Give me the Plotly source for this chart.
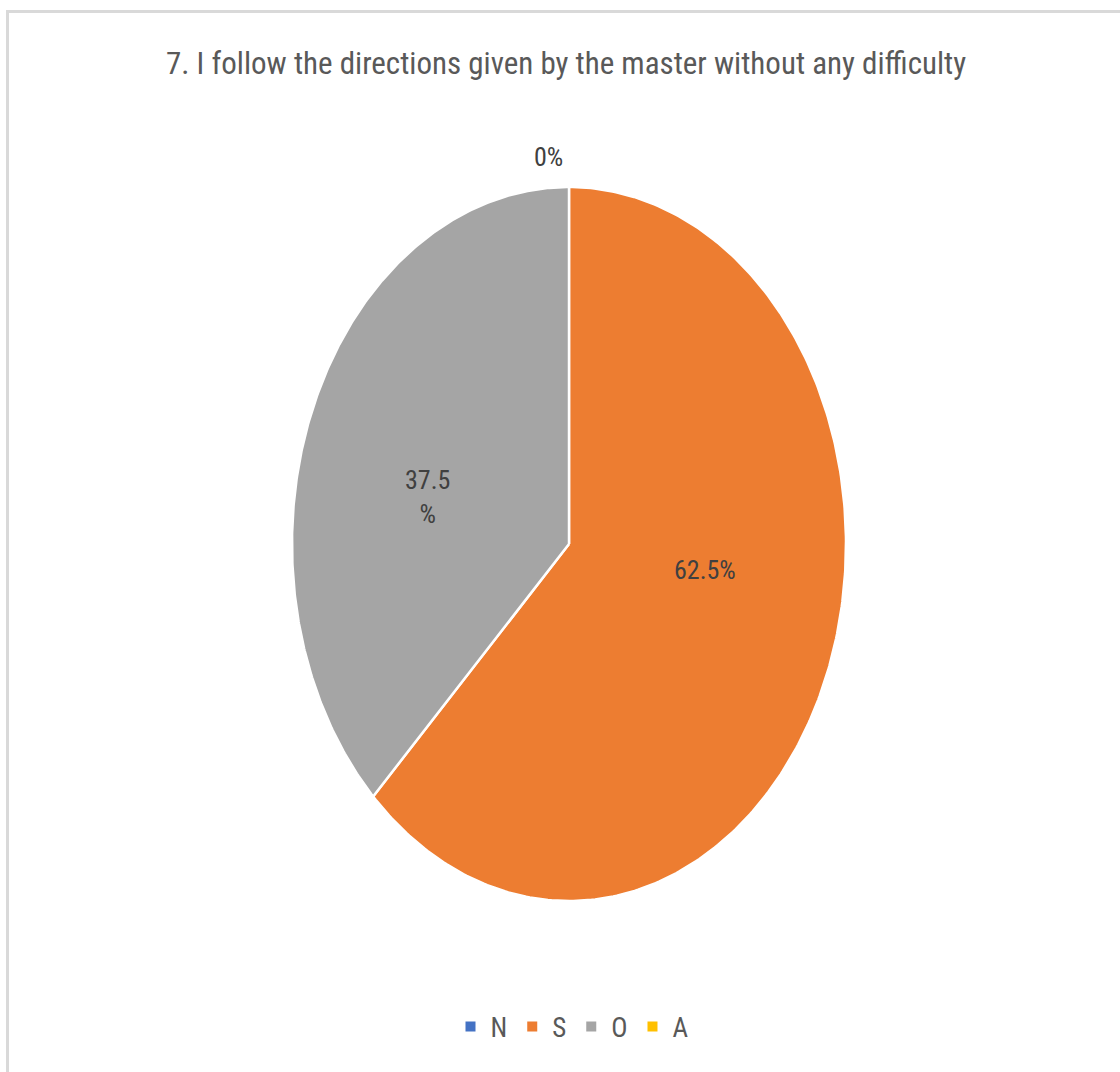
import numpy as np
import plotly.graph_objects as go

# ---- data ----
title_text = "7. I follow the directions given by the master without any difficulty"
categories = ["N", "S", "O", "A"]
values = [0.0, 62.5, 37.5, 0.0]
colors = ["#4472C4", "#ED7D31", "#A5A5A5", "#FFC000"]

W, H = 1120, 1072
cx_px, cy_px = 569, 544   # pie centre in pixels
rx_px, ry_px = 277, 357   # ellipse radii in pixels (chart is stretched vertically)

# axis ranges so that a unit circle maps onto the ellipse
xr = [-cx_px / rx_px, (W - cx_px) / rx_px]
yr = [-(H - cy_px) / ry_px, cy_px / ry_px]

font_family = "Liberation Sans Narrow, Roboto Condensed, Open Sans, sans-serif"
text_col = "#595959"

fig = go.Figure()

total = sum(values)
start = 0.0
for cat, v, c in zip(categories, values, colors):
    frac = v / total
    end = start + frac * 2 * np.pi
    if v > 0:
        t = np.linspace(start, end, 300)
        xs = np.concatenate([[0], np.sin(t), [0]])
        ys = np.concatenate([[0], np.cos(t), [0]])
        fig.add_trace(go.Scatter(
            x=xs, y=ys, mode="lines", fill="toself", fillcolor=c,
            line=dict(color="white", width=2.5), showlegend=False,
            hoverinfo="skip"))
    start = end

# legend entries
for cat, c in zip(categories, colors):
    fig.add_trace(go.Scatter(
        x=[None], y=[None], mode="markers", name=cat,
        marker=dict(symbol="square", size=10, color=c)))

# data labels (positions chosen like Excel's best-fit placement)
label_pos_px = {"N": (548, 157), "S": (705, 570), "O": (427, 497)}
label_text = {
    "N": f"{values[0]:g}%",
    "S": f"{values[1]:g}%",
    "O": f"{values[2]:g}<br>%",
}
for cat, (px, py) in label_pos_px.items():
    fig.add_annotation(
        x=(px - cx_px) / rx_px, y=(cy_px - py) / ry_px, xref="x", yref="y",
        text=label_text[cat], showarrow=False,
        font=dict(family=font_family, size=26, color="#404040"))

fig.add_annotation(
    x=566 / W, y=1 - 64 / H, xref="paper", yref="paper",
    text=title_text, showarrow=False, xanchor="center", yanchor="middle",
    font=dict(family=font_family, size=31, color=text_col))

# outer chart border (light grey)
fig.add_shape(type="rect", xref="paper", yref="paper",
              x0=7.5 / W, x1=1.02, y0=-0.02, y1=1 - 11.5 / H,
              line=dict(color="#D9D9D9", width=3), layer="below")

fig.update_layout(
    width=W, height=H,
    margin=dict(l=0, r=0, t=0, b=0),
    paper_bgcolor="white", plot_bgcolor="white",
    xaxis=dict(range=xr, visible=False, fixedrange=True),
    yaxis=dict(range=yr, visible=False, fixedrange=True),
    legend=dict(orientation="h", x=572 / W, xanchor="center",
                y=1 - 1027 / H, yanchor="middle",
                font=dict(family=font_family, size=27, color=text_col),
                itemwidth=30, bgcolor="rgba(0,0,0,0)"),
    showlegend=True,
)

fig.write_html("out.html")
